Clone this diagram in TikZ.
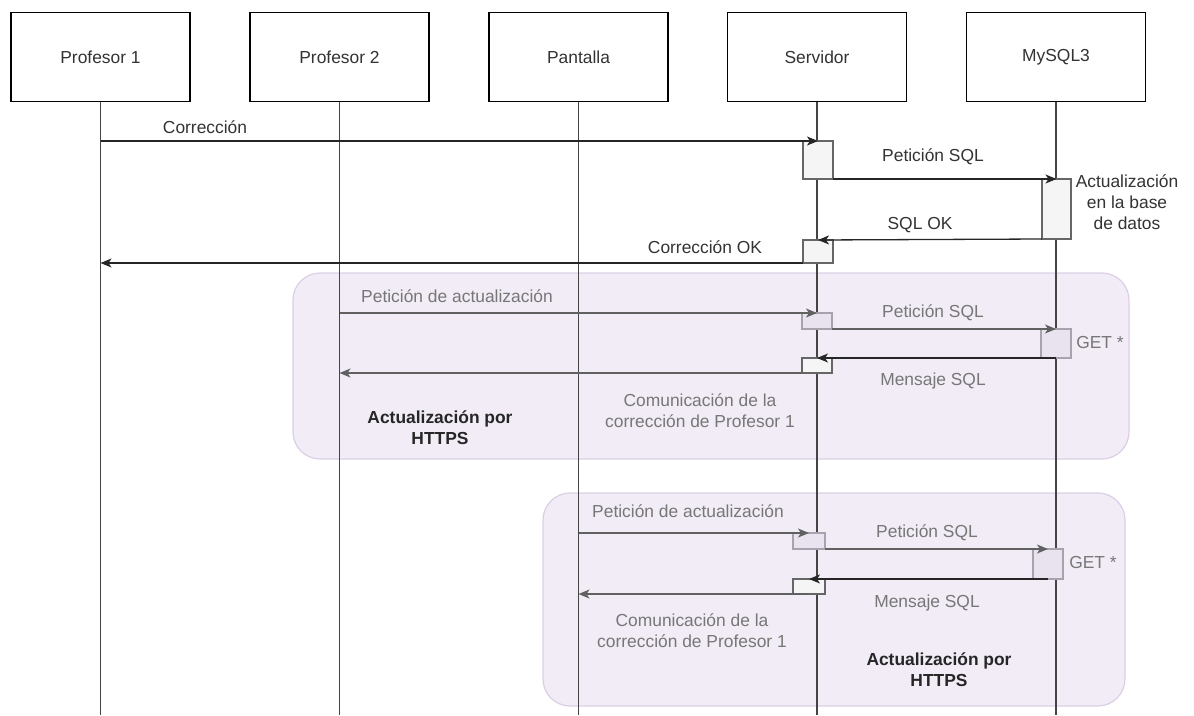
\documentclass[tikz,border=0pt]{standalone}
\usepackage{fontspec}
\setmainfont{Liberation Sans}
\usetikzlibrary{arrows.meta,calc}

\definecolor{txt}{HTML}{333333}
\definecolor{grptxt}{HTML}{777777}
\definecolor{grpfill}{HTML}{F1ECF5}
\definecolor{grpdraw}{HTML}{DCCFE5}
\definecolor{actfill}{HTML}{F5F5F5}
\definecolor{actdraw}{HTML}{666666}
\definecolor{reqfill}{HTML}{E9E3EF}
\definecolor{reqdraw}{HTML}{A8A2AE}
\definecolor{lifec}{HTML}{444444}

\tikzset{
  every node/.style={font=\fontsize{17.4}{21}\selectfont, text=txt},
  actor/.style={draw=black, line width=1.3pt, fill=white, minimum width=179pt,
    minimum height=89pt, inner sep=0pt, outer sep=0pt},
  life/.style={draw=lifec, line width=1.3pt},
  actbox/.style={draw=actdraw, fill=actfill, line width=1.1pt, anchor=north west,
    inner sep=0pt, outer sep=0pt},
  reqbox/.style={draw=reqdraw, fill=reqfill, line width=1.1pt, anchor=north west,
    inner sep=0pt, outer sep=0pt},
  msg/.style={draw=black!85, line width=1.3pt,
    -{Stealth[length=11pt,width=9pt,inset=3pt]}},
  gmsg/.style={draw=black!62, line width=1.3pt,
    -{Stealth[length=11pt,width=9pt,inset=3pt]}},
  group/.style={draw=grpdraw, fill=grpfill, line width=1.2pt, rounded corners=27pt},
  lbl/.style={align=center, inner sep=0pt},
  glbl/.style={align=center, inner sep=0pt, text=grptxt},
  blbl/.style={align=center, inner sep=0pt, text=black!85, font=\fontsize{17.4}{21}\selectfont\bfseries},
}

\begin{document}
\begin{tikzpicture}[x=1pt,y=-1pt]
  \useasboundingbox (0,0) rectangle (1194,715);

  % interaction groups (drawn first, underneath the lifelines)
  \draw[group] (293,273) rectangle (1129,459);
  \draw[group] (543,493) rectangle (1125,706);

  % participants
  \node[actor] (p1)  at (100.5,57) {Profesor 1};
  \node[actor] (p2)  at (339.5,57) {Profesor 2};
  \node[actor] (pan) at (578.5,57) {Pantalla};
  \node[actor] (srv) at (817,57)   {Servidor};
  \node[actor] (db)  at (1056,57)  {MySQL3};

  % lifelines
  \coordinate (p1end)  at (100.5,715);
  \coordinate (p2end)  at (339.5,715);
  \coordinate (panend) at (578.5,715);
  \coordinate (srvend) at (817,715);
  \coordinate (dbend)  at (1056,715);
  \draw[life] (p1.south)  -- (p1end);
  \draw[life] (p2.south)  -- (p2end);
  \draw[life] (pan.south) -- (panend);
  \draw[life] (srv.south) -- (srvend);
  \draw[life] (db.south)  -- (dbend);

  % ---- correction from Profesor 1 ----
  \node[actbox, minimum width=30pt, minimum height=38pt] (a1) at (803,141) {};
  \node[actbox, minimum width=29pt, minimum height=60pt] (d1) at (1042,179) {};
  \node[actbox, minimum width=30pt, minimum height=23pt] (a2) at (803,240) {};

  \draw[msg] (p1.south |- a1.north) -- (a1.north);
  \draw[msg] (a1.south east) -- (d1.north);
  \draw[msg] (d1.south west) -- (a2.north);
  \draw[msg] (a2.south west) -- (p1.south |- a2.south);

  \node[lbl] (l1) at (205,127) {Corrección};
  \node[lbl] (l2) at (933,157) {Petición SQL};
  \node[lbl] (l3) at (1127,202) {Actualización\\en la base\\de datos};
  \node[lbl] (l4) at (920,225) {SQL OK};
  \node[lbl] (l5) at (705,247) {Corrección OK};

  % ---- update of Profesor 2 ----
  \node[reqbox, minimum width=30pt, minimum height=16pt] (b1) at (802,313) {};
  \node[reqbox, minimum width=30pt, minimum height=29pt] (e1) at (1041,329) {};
  \node[actbox, minimum width=30pt, minimum height=15pt] (b2) at (802,358) {};

  \draw[gmsg] (p2.south |- b1.north) -- (b1.north);
  \draw[gmsg] (b1.south east) -- (e1.north);
  \draw[msg]  (e1.south) -- (b2.north);
  \draw[gmsg] (b2.south west) -- (p2.south |- b2.south);

  \node[glbl] (g1) at (457,296) {Petición de actualización};
  \node[glbl] (g2) at (933,313) {Petición SQL};
  \node[glbl] (g3) at (1100,343) {GET *};
  \node[glbl] (g4) at (933,381) {Mensaje SQL};
  \node[glbl] (g5) at (700,411) {Comunicación de la\\corrección de Profesor 1};
  \node[blbl] (g6) at (440,428) {Actualización por\\HTTPS};

  % ---- update of Pantalla ----
  \node[reqbox, minimum width=32pt, minimum height=16pt] (c1) at (793,533) {};
  \node[reqbox, minimum width=30pt, minimum height=30pt] (f1) at (1033,549) {};
  \node[actbox, minimum width=32pt, minimum height=15pt] (c2) at (793,579) {};

  \draw[gmsg] (pan.south |- c1.north) -- (c1.north);
  \draw[gmsg] (c1.south east) -- (f1.north);
  \draw[msg]  (f1.south) -- (c2.north);
  \draw[gmsg] (c2.south) -- (pan.south |- c2.south);

  \node[glbl] (h1) at (688,511) {Petición de actualización};
  \node[glbl] (h2) at (927,533) {Petición SQL};
  \node[glbl] (h3) at (1093,563) {GET *};
  \node[glbl] (h4) at (927,603) {Mensaje SQL};
  \node[glbl] (h5) at (692,631) {Comunicación de la\\corrección de Profesor 1};
  \node[blbl] (h6) at (939,670) {Actualización por\\HTTPS};
\end{tikzpicture}
\end{document}
